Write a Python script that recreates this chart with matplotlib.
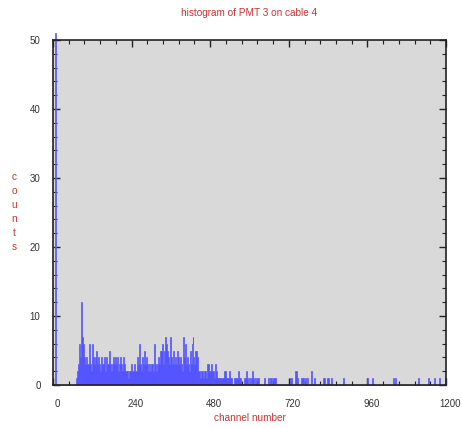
import matplotlib
matplotlib.use("Agg")
import matplotlib.pyplot as plt
import matplotlib.transforms as mtransforms
import numpy as np

# spike at the very start of the range (goes off the top of the plot)
spike_ch = [6]
spike_cnt = [51]

# dense part: one value per 3-channel bin, starting at channel 70
dense_start = 70
dense_step = 3
dense_cnt = [
    1, 2, 3, 6, 4, 9, 12, 7, 6, 4, 3, 4, 3, 3, 6, 3, 2, 6, 4, 3, 4, 5, 3, 4, 3, 2, 4, 3, 3, 4, 2, 4, 3, 3,
    5, 3, 2, 3, 4, 3, 4, 3, 4, 2, 3, 4, 3, 2, 4, 3, 2, 2, 2, 1, 2, 2, 3, 2, 2, 3, 2, 2, 2, 4,
    3, 6, 3, 2, 4, 3, 5, 3, 4, 3, 2, 3, 2, 3, 3, 2, 6, 3, 2, 3, 4, 3, 5, 5, 6, 3, 5, 7, 6, 5,
    4, 3, 7, 4, 3, 5, 3, 4, 3, 5, 4, 3, 4, 3, 2, 7, 4, 6, 3, 4, 3, 2, 5, 3, 6, 7, 4, 3, 5, 5,
    4, 2, 2, 1, 2, 2, 1, 2, 2, 1, 3, 3, 2, 2, 3, 2, 2, 1, 3, 2, 1, 1, 1, 1, 1, 1, 1, 2, 2, 1,
    1, 1, 2, 1, 1, 0, 0, 1, 1, 1, 1, 2, 1, 1, 0, 0, 0, 1, 1, 2, 1, 0, 1, 1, 0, 1, 2, 1, 0, 1,
    0, 1, 1, 0, 0, 0, 0, 0, 1, 0, 0, 0, 1, 0, 1, 1, 0, 1, 1, 1,
]

# sparse single hits further out
sparse_ch = [724, 727, 739, 742, 745, 757, 760, 763, 769, 772, 779, 791, 800,
             827, 830, 837, 840, 849, 885, 962, 977, 1038, 1044, 1118, 1148,
             1166, 1179, 1197]
sparse_cnt = [1, 1, 2, 2, 1, 1, 1, 1, 1, 1, 1, 2, 1,
              1, 1, 1, 1, 1, 1, 1, 1, 1, 1, 1, 1,
              1, 1, 1]

# put everything into 3-channel bins over 0..1200
binw = 3
edges = np.arange(0, 1200 + binw, binw)
hist = np.zeros(len(edges) - 1)
dense_ch = dense_start + dense_step * np.arange(len(dense_cnt))
for c, n in zip(np.concatenate([spike_ch, dense_ch, sparse_ch]),
                np.concatenate([spike_cnt, dense_cnt, sparse_cnt])):
    i = min(int(c // binw), len(hist) - 1)
    hist[i] = max(hist[i], n)

red = "#cc3333"
blue = "#5555ff"

fig = plt.figure(figsize=(4.62, 4.28), dpi=100)
ax = fig.add_axes([53/462, 1-385/428, (446-53)/462, (385-40)/428])
ax.set_facecolor("#d9d9d9")

st = ax.stairs(hist, edges, fill=True, facecolor=blue, edgecolor=blue,
               linewidth=0.5, zorder=2.4)
st.set_clip_on(False)

ax.set_xlim(0, 1200)
ax.set_ylim(0, 50)
ax.set_xticks(np.arange(0, 1201, 240))
ax.set_xticks(np.arange(0, 1201, 48), minor=True)
ax.set_yticks(np.arange(0, 51, 10))
ax.set_yticks(np.arange(0, 51, 2), minor=True)
ax.tick_params(which="both", direction="in", top=True, right=True,
               labelsize=7, labelcolor="#333333", color="#222222",
               labelfontfamily="Liberation Sans")
ax.tick_params(which="major", length=5, width=1)
ax.tick_params(which="minor", length=3, width=0.8)
ax.tick_params(axis="x", pad=10)
ax.tick_params(axis="y", pad=9)
for s in ax.spines.values():
    s.set_linewidth(1.2)
    s.set_color("#222222")

shift = mtransforms.ScaledTranslation(4/100, 0, fig.dpi_scale_trans)
for lab in ax.get_xticklabels():
    lab.set_transform(lab.get_transform() + shift)

fig.text(0.5 * (53 + 446) / 462, 1 - 13/428, "histogram of PMT 3 on cable 4",
         color=red, fontsize=7.2, ha="center", va="center", family="Liberation Sans")
fig.text(0.5 * (53 + 446) / 462, 1 - 418/428, "channel number",
         color=red, fontsize=7.2, ha="center", va="center", family="Liberation Sans")
for i, c in enumerate("counts"):
    fig.text(14/462, 1 - (177 + 14*i)/428, c, color=red, fontsize=7.2,
             ha="center", va="center", family="Liberation Sans")

fig.savefig("out.png", dpi=100)
